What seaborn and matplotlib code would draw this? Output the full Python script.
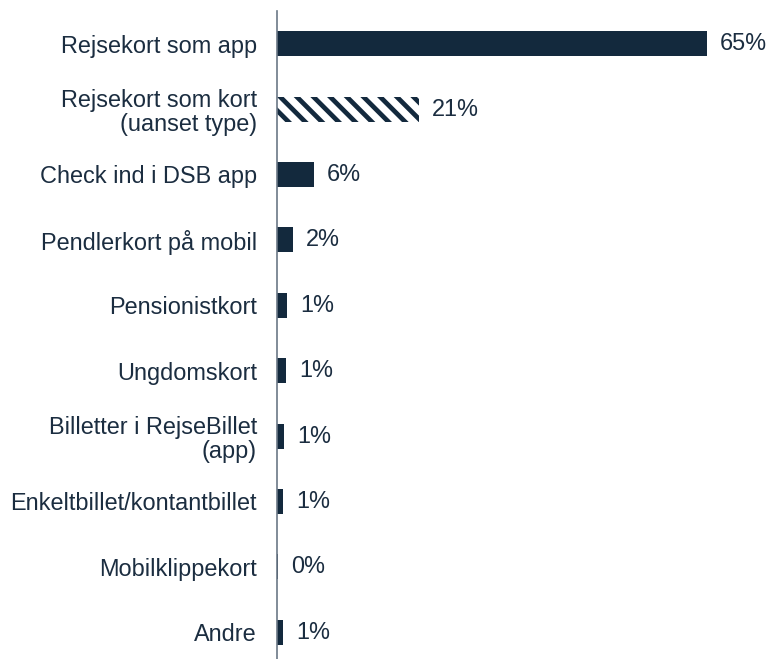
import matplotlib
matplotlib.use("Agg")
import matplotlib.pyplot as plt
import seaborn as sns

categories = [
    "Rejsekort som app",
    "Rejsekort som kort\n(uanset type)",
    "Check ind i DSB app",
    "Pendlerkort på mobil",
    "Pensionistkort",
    "Ungdomskort",
    "Billetter i RejseBillet\n(app)",
    "Enkeltbillet/kontantbillet",
    "Mobilklippekort",
    "Andre",
]
values = [65.0, 21.4, 5.6, 2.4, 1.5, 1.3, 1.0, 0.9, 0.2, 0.9]
value_labels = ["65%", "21%", "6%", "2%", "1%", "1%", "1%", "1%", "0%", "1%"]
hatched_index = 1

navy = "#13293d"
text_color = "#1b2d40"
axis_color = "#6b7886"
fs = 16.9

sns.set_style("white")
plt.rcParams["font.family"] = ["Liberation Sans", "DejaVu Sans"]
plt.rcParams["hatch.linewidth"] = 3.4

fig = plt.figure(figsize=(7.71, 6.59), dpi=100)
ax = fig.add_axes([277 / 771, -6 / 659, (771 - 277) / 771, (659 + 6 - 11) / 659])

sns.barplot(x=values, y=categories, color=navy, saturation=1, width=0.38,
            linewidth=0, ax=ax, orient="h")

bars = ax.patches
hb = bars[hatched_index]
hb.set_facecolor("white")
hb.set_edgecolor(navy)
hb.set_hatch("\\\\")
hb.set_linewidth(0)
try:
    hb.set_hatch_linewidth(3.4)
except AttributeError:
    pass

ax.bar_label(ax.containers[0], labels=value_labels, padding=9.5,
             fontsize=fs, color=text_color)

ax.set_xlim(0, 494 / 6.615)
ax.set_ylim(9.5, -0.5)
ax.set_xlabel("")
ax.set_ylabel("")
ax.set_xticks([])
for s in ["top", "right", "bottom"]:
    ax.spines[s].set_visible(False)
ax.spines["left"].set_color(axis_color)
ax.spines["left"].set_linewidth(1.2)
ax.tick_params(axis="y", length=0, pad=14.5, labelsize=fs, labelcolor=text_color)
for t in ax.get_yticklabels():
    t.set_horizontalalignment("right")
    t.set_multialignment("right")
    t.set_linespacing(1.1)

fig.savefig("out.png", dpi=100)
